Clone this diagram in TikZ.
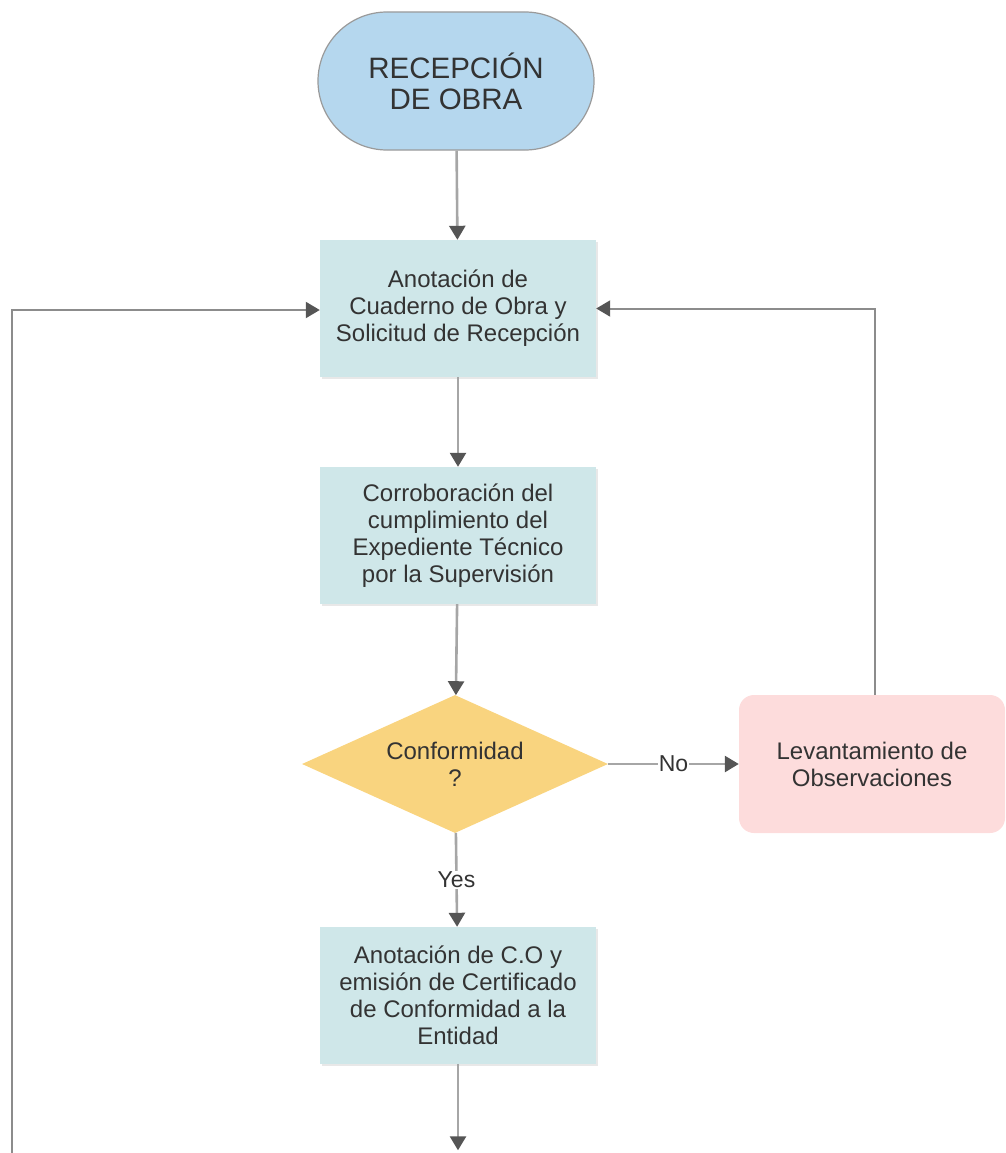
\documentclass[tikz,border=0pt]{standalone}
\usepackage{fontspec}
\setmainfont{Liberation Sans}
\usetikzlibrary{arrows.meta,shapes.geometric,shadows}
\definecolor{termfill}{HTML}{B5D7EE}
\definecolor{termdraw}{HTML}{9A9A9A}
\definecolor{boxfill}{HTML}{CFE7E9}
\definecolor{decfill}{HTML}{F9D47F}
\definecolor{levfill}{HTML}{FDDCDC}
\definecolor{linegray}{HTML}{A6A6A6}
\definecolor{loopgray}{HTML}{8C8C8C}
\definecolor{headgray}{HTML}{555555}
\definecolor{txt}{HTML}{333333}
\tikzset{
  basefont/.style={font=\fontsize{24}{27}\selectfont, text=txt, align=center},
  terminal/.style={basefont, font=\fontsize{29.5}{31}\selectfont, draw=termdraw, line width=1.2pt, fill=termfill,
     rectangle, rounded corners=69pt, minimum width=276pt, minimum height=138pt, inner sep=0pt},
  procbox/.style={basefont, fill=boxfill, rectangle, minimum width=276pt, minimum height=137pt, inner sep=0pt,
     drop shadow={opacity=0.18, shadow xshift=2pt, shadow yshift=-2pt}},
  decision/.style={basefont, fill=decfill, diamond, aspect=2.22, minimum width=306pt, minimum height=138pt, inner sep=0pt},
  levbox/.style={basefont, fill=levfill, rectangle, rounded corners=15pt, minimum width=266pt, minimum height=138pt, inner sep=0pt},
  flow/.style={draw=linegray, line width=2.6pt, -{Triangle[width=16pt,length=14pt,color=headgray]}},
  loopflow/.style={draw=loopgray, line width=2pt, -{Triangle[width=16pt,length=14pt,color=headgray]}},
  edgelabel/.style={font=\fontsize{23}{24}\selectfont, text=txt, fill=white, inner sep=1pt}
}
\begin{document}
\begin{tikzpicture}[x=1pt,y=-1pt]
\useasboundingbox (0,0) rectangle (1005,1153);
\clip (0,0) rectangle (1005,1153);
\node[terminal] (start) at (456,81) {RECEPCIÓN\\DE OBRA};
\node[procbox] (anot) at (458,308.5) {Anotación de\\Cuaderno de Obra y\\Solicitud de Recepción};
\node[procbox] (corr) at (458,535.5) {Corroboración del\\cumplimiento del\\Expediente Técnico\\por la Supervisión};
\node[decision] (conf) at (455,764) {Conformidad\\?};
\node[levbox] (lev) at (872,764) {Levantamiento de\\Observaciones};
\node[procbox] (cert) at (458,995.5) {Anotación de C.O y\\emisión de Certificado\\de Conformidad a la\\Entidad};
\node[procbox, fill=white] (next) at (458,1219) {};
\coordinate (loopbot) at (12,1170);
\coordinate (loopcorner) at (12,310);
\coordinate (rightcorner) at (875,308.5);

\draw[flow] (start) -- (anot);
\draw[flow] (anot) -- (corr);
\draw[flow] (corr) -- (conf);
\draw[flow] (conf) -- node[edgelabel]{No} (lev);
\draw[flow] (conf) -- node[edgelabel, pos=0.5]{Yes} (cert);
\draw[flow] (cert) -- (next);
\draw[loopflow] (loopbot) -- (loopcorner) -- (loopcorner -| anot.west);
\draw[loopflow] (lev.north -| rightcorner) -- (rightcorner) -- (anot.east);
\end{tikzpicture}
\end{document}
